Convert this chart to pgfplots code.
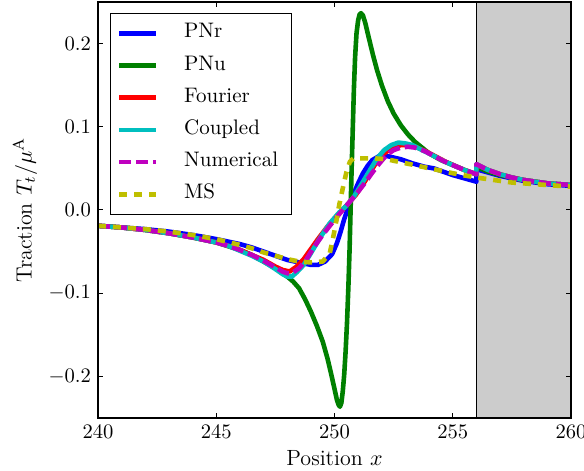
\RequirePackage{fix-cm}
\documentclass[border=0pt]{standalone}
\usepackage{pgfplots}
\pgfplotsset{compat=1.18}
\definecolor{cB}{rgb}{0,0,1}
\definecolor{cG}{rgb}{0,0.5,0}
\definecolor{cR}{rgb}{1,0,0}
\definecolor{cC}{rgb}{0,0.75,0.75}
\definecolor{cM}{rgb}{0.75,0,0.75}
\definecolor{cY}{rgb}{0.75,0.75,0}
\definecolor{span}{gray}{0.8}
\begin{document}
\begin{tikzpicture}
\begin{axis}[
  width=236.5pt, height=208pt, scale only axis,
  xmin=240, xmax=260, ymin=-0.25, ymax=0.25,
  xtick={240,245,250,255,260},
  ytick={-0.2,-0.1,0,0.1,0.2},
  scaled y ticks=false,
  ticklabel style={font=\fontsize{10.3}{12}\selectfont},
  yticklabel style={/pgf/number format/fixed,/pgf/number format/precision=1,/pgf/number format/fixed zerofill},
  tick align=inside, tick pos=both, major tick length=2.5pt,
  every tick/.style={black, line width=0.5pt},
  axis line style={line width=0.6pt},
  axis on top,
  xlabel={Position $x$},
  ylabel={Traction $T_t/\mu^{\mathrm{A}}$},
  every axis x label/.style={at={(rel axis cs:0.5,-0.096)}, anchor=center, font=\fontsize{11}{13}\selectfont},
  every axis y label/.style={at={(rel axis cs:-0.154,0.5)}, anchor=center, rotate=90, font=\fontsize{11}{13}\selectfont},
  legend cell align=left,
  legend image code/.code={\draw[#1] (0pt,0pt) -- (18.5pt,0pt);},
  legend style={at={(rel axis cs:0.0254,0.9736)}, anchor=north west, draw=black, line width=0.5pt, fill=white,
    font=\fontsize{10.5}{12.5}\selectfont,
    inner xsep=3.2pt, inner ysep=1.9pt, row sep=0pt, column sep=9.5pt,
    nodes={inner sep=3.3pt, text height=7pt, text depth=2.5pt, anchor=west}},
  every axis plot/.append style={line width=2.3pt, line join=round},
]
\fill[span, draw=black, line width=0.6pt] (axis cs:256,-0.25) rectangle (axis cs:260,0.25);

% PNr
\addplot[cB] coordinates {
(240,-0.019) (241,-0.021) (242,-0.023) (243,-0.026) (244,-0.030) (245,-0.035) (246,-0.041) (246.5,-0.045) (247,-0.050) (247.5,-0.055) (248,-0.060) (248.5,-0.063) (249,-0.066) (249.3,-0.066) (249.6,-0.062) (249.9,-0.053) (250.1,-0.040) (250.25,-0.027) (250.4,-0.012) (250.6,0.005) (250.8,0.019) (251.0,0.032) (251.2,0.044) (251.4,0.053) (251.6,0.060) (251.9,0.065) (252.2,0.065) (252.5,0.063) (252.8,0.061) (253.3,0.056) (253.8,0.052) (254.2,0.050) (254.6,0.046) (255.0,0.042) (255.5,0.038) (256,0.034) (256,0.049) (256.5,0.045) (257,0.041) (257.5,0.038) (258,0.035) (258.5,0.033) (259,0.031) (259.5,0.030) (260,0.029)
};
\addlegendentry{PNr}
% PNu
\addplot[cG] coordinates {
(240,-0.019) (241,-0.021) (242,-0.024) (243,-0.028) (244,-0.033) (245,-0.039) (246,-0.048) (246.5,-0.054) (247,-0.062) (247.5,-0.070) (248,-0.080) (248.25,-0.086) (248.5,-0.094) (248.75,-0.107) (249.0,-0.122) (249.25,-0.139) (249.5,-0.158) (249.7,-0.178) (249.85,-0.196) (250.0,-0.215) (250.1,-0.228) (250.17,-0.234) (250.23,-0.2365) (250.29,-0.232) (250.35,-0.218) (250.41,-0.198) (250.47,-0.170) (250.53,-0.135) (250.59,-0.090) (250.64,-0.045) (250.68,0.0) (250.72,0.045) (250.77,0.095) (250.82,0.145) (250.87,0.183) (250.93,0.212) (251.0,0.228) (251.06,0.235) (251.12,0.2365) (251.2,0.234) (251.3,0.225) (251.45,0.207) (251.63,0.186) (251.8,0.168) (252.0,0.150) (252.25,0.131) (252.5,0.116) (252.8,0.102) (253.1,0.091) (253.4,0.082) (253.7,0.075) (254.0,0.068) (254.5,0.060) (255,0.054) (255.5,0.048) (256,0.043) (256,0.052) (256.5,0.046) (257,0.042) (258,0.036) (259,0.032) (260,0.030)
};
\addlegendentry{PNu}
% Fourier
\addplot[cR] coordinates {
(240,-0.019) (241,-0.021) (242,-0.024) (243,-0.028) (244,-0.033) (245,-0.039) (245.5,-0.043) (246,-0.048) (246.5,-0.054) (247,-0.060) (247.5,-0.068) (247.8,-0.072) (248.1,-0.074) (248.4,-0.068) (248.7,-0.059) (249.0,-0.047) (249.3,-0.035) (249.7,-0.020) (250.1,-0.007) (250.5,0.005) (250.9,0.018) (251.3,0.035) (251.7,0.054) (252.0,0.066) (252.4,0.074) (252.8,0.078) (253.1,0.078) (253.5,0.075) (253.9,0.070) (254.3,0.064) (254.7,0.058) (255.1,0.053) (255.5,0.048) (256,0.043) (256,0.055) (256.5,0.048) (257,0.043) (257.5,0.039) (258,0.036) (258.5,0.034) (259,0.032) (259.5,0.031) (260,0.030)
};
\addlegendentry{Fourier}
% Coupled
\addplot[cC] coordinates {
(240,-0.019) (241,-0.021) (242,-0.024) (243,-0.028) (244,-0.033) (245,-0.039) (245.5,-0.043) (246,-0.049) (246.5,-0.055) (247,-0.062) (247.5,-0.071) (247.8,-0.077) (248.0,-0.080) (248.2,-0.080) (248.4,-0.075) (248.7,-0.066) (249.0,-0.052) (249.4,-0.033) (249.8,-0.016) (250.2,-0.003) (250.5,0.005) (250.8,0.015) (251.1,0.029) (251.5,0.048) (251.8,0.062) (252.1,0.072) (252.4,0.078) (252.7,0.081) (253.0,0.080) (253.3,0.078) (253.7,0.072) (254.2,0.065) (254.6,0.059) (255.0,0.054) (255.5,0.048) (256,0.043) (256,0.055) (256.5,0.048) (257,0.043) (257.5,0.039) (258,0.036) (258.5,0.034) (259,0.032) (259.5,0.031) (260,0.030)
};
\addlegendentry{Coupled}
% Numerical
\addplot[cM, dash pattern=on 6pt off 2.5pt] coordinates {
(240,-0.019) (241,-0.021) (242,-0.024) (243,-0.028) (244,-0.033) (245,-0.039) (245.5,-0.043) (246,-0.048) (246.5,-0.054) (247,-0.061) (247.5,-0.069) (247.8,-0.074) (248.0,-0.076) (248.2,-0.076) (248.5,-0.070) (248.8,-0.060) (249.1,-0.046) (249.5,-0.030) (249.8,-0.019) (250.2,-0.005) (250.5,0.005) (251.0,0.022) (251.3,0.033) (251.6,0.045) (251.9,0.056) (252.2,0.066) (252.5,0.072) (252.8,0.075) (253.1,0.076) (253.4,0.075) (253.8,0.071) (254.2,0.065) (254.6,0.059) (255.0,0.054) (255.5,0.048) (256,0.043) (256,0.055) (256.5,0.048) (257,0.043) (257.5,0.039) (258,0.036) (258.5,0.034) (259,0.032) (259.5,0.031) (260,0.030)
};
\addlegendentry{Numerical}
% MS
\addplot[cY, dash pattern=on 4pt off 3.5pt] coordinates {
(240,-0.019) (241,-0.021) (242,-0.023) (243,-0.026) (244,-0.030) (245,-0.035) (246,-0.042) (246.5,-0.046) (247,-0.051) (247.5,-0.055) (248,-0.059) (248.5,-0.062) (249,-0.063) (249.5,-0.062) (249.8,-0.052) (249.95,-0.032) (250.1,-0.010) (250.2,0.006) (250.35,0.026) (250.5,0.045) (250.65,0.058) (250.8,0.062) (251.2,0.062) (251.7,0.062) (252.2,0.061) (252.7,0.058) (253.2,0.055) (253.7,0.052) (254.2,0.049) (254.7,0.046) (255.2,0.043) (255.6,0.041) (256,0.039) (256.5,0.037) (257,0.035) (257.5,0.033) (258,0.032) (258.5,0.031) (259,0.030) (259.5,0.029) (260,0.028)
};
\addlegendentry{MS}
\end{axis}
\pgfresetboundingbox
\path ([shift={(-49pt,-26.5pt)}]current axis.south west) rectangle ([shift={(6.5pt,1pt)}]current axis.north east);
\end{tikzpicture}
\end{document}
